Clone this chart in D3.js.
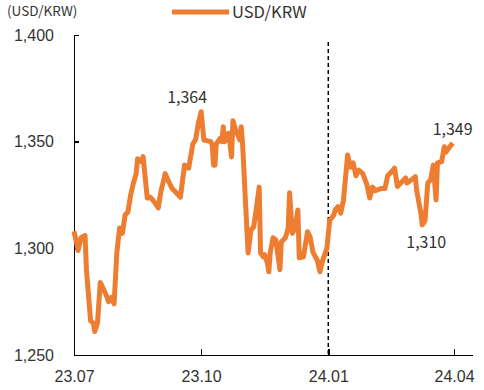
<!DOCTYPE html>
<html>
<meta charset="utf-8">
<style>
body {
  margin: 0;
  font-family: 'Noto Sans CJK KR', 'Noto Sans', sans-serif;
  color: #333;
}
.axis path,
.axis line {
  fill: none;
  stroke: #000;
  stroke-width: 1.5;
  shape-rendering: crispEdges;
}
.axis text {
  font-size: 16px;
  fill: #333;
}
</style>
<body>
<script src="https://cdn.jsdelivr.net/npm/d3@7"></script>
<script>
var w = 484;
var h = 390;

// daily USD/KRW close
var dates = [
  "2023-07-01","2023-07-04","2023-07-06","2023-07-09","2023-07-10","2023-07-13","2023-07-15","2023-07-16",
  "2023-07-18","2023-07-20","2023-07-23","2023-07-25","2023-07-26","2023-07-28","2023-07-30","2023-08-01",
  "2023-08-03","2023-08-05","2023-08-07","2023-08-09","2023-08-11","2023-08-13","2023-08-15","2023-08-16",
  "2023-08-19","2023-08-20","2023-08-23","2023-08-25","2023-08-27","2023-08-29","2023-08-31","2023-09-02",
  "2023-09-05","2023-09-07","2023-09-10","2023-09-13","2023-09-16","2023-09-19","2023-09-22","2023-09-25",
  "2023-09-27","2023-09-29","2023-10-01","2023-10-03","2023-10-05","2023-10-08","2023-10-09","2023-10-10",
  "2023-10-11","2023-10-12","2023-10-15","2023-10-16","2023-10-17","2023-10-18","2023-10-21","2023-10-23",
  "2023-10-24","2023-10-26","2023-10-27","2023-10-29","2023-10-30","2023-10-31","2023-11-02","2023-11-04",
  "2023-11-06","2023-11-08","2023-11-10","2023-11-12","2023-11-13","2023-11-15","2023-11-16","2023-11-18",
  "2023-11-19","2023-11-20","2023-11-22","2023-11-24","2023-11-27","2023-11-28","2023-12-01","2023-12-03",
  "2023-12-04","2023-12-06","2023-12-08","2023-12-10","2023-12-11","2023-12-14","2023-12-17","2023-12-19",
  "2023-12-21","2023-12-24","2023-12-26","2023-12-28","2023-12-31","2024-01-02","2024-01-05","2024-01-06",
  "2024-01-08","2024-01-10","2024-01-12","2024-01-15","2024-01-17","2024-01-19","2024-01-21","2024-01-23",
  "2024-01-26","2024-01-29","2024-01-31","2024-02-02","2024-02-04","2024-02-08","2024-02-11","2024-02-13",
  "2024-02-16","2024-02-18","2024-02-20","2024-02-23","2024-02-26","2024-02-27","2024-03-01","2024-03-04",
  "2024-03-05","2024-03-08","2024-03-09","2024-03-11","2024-03-13","2024-03-15","2024-03-17","2024-03-19",
  "2024-03-20","2024-03-23","2024-03-25","2024-03-26","2024-03-31"
];
var usdkrw = [
  1308,1299,1305,1306,1290,1266,1265,1261,
  1265,1284,1280,1277,1275,1277,1274,1298,
  1309.5,1307,1315.6,1317,1325,1330.6,1335,1342,
  1340.6,1343,1323.6,1324,1322.7,1321,1319,1327,
  1335,1332,1328,1326,1324,1339,1337.6,1349,
  1351,1358.7,1364,1350.8,1350.5,1350,1348.4,1339,
  1339,1349,1351.7,1350,1357,1350,1354,1342.8,
  1359.8,1355.5,1354,1350.8,1357,1349,1323,1297.8,
  1308.6,1310,1319,1328.7,1297.8,1296,1297,1293,
  1289,1298,1305,1304,1290,1303,1305,1309.5,
  1326,1307,1309.5,1318,1295.5,1296,1307.8,1305,
  1298,1294.5,1289,1294.5,1300,1313,1315.6,1318,
  1319.5,1316.5,1322.7,1343.8,1338,1340,1334,1336.7,
  1335,1329.7,1323.6,1328.7,1327,1328,1328,1334,
  1336,1337.6,1329,1331,1333,1330.6,1332,1333.6,
  1327,1316.5,1311,1313,1330.6,1332,1339,1322.7,
  1340,1340.6,1347.6,1345,1349.4
];

var yTicks = [1250, 1300, 1350, 1400];
var xTicks = ["2023-07-01", "2023-10-01", "2024-01-01", "2024-04-01"];
var xTickLabels = ["23.07", "23.10", "24.01", "24.04"];
var yearLine = "2024-01-01";

// labelled points: max, latest, recent low
var notes = [
  { date: "2023-10-01", text: "1,364" },
  { date: "2024-03-31", text: "1,349" },
  { date: "2024-03-09", text: "1,310" }
];

var parse = d3.timeParse("%Y-%m-%d");
var data = dates.map(function(d, i) {
  return { date: parse(d), value: usdkrw[i] };
});

var xScale = d3.scaleTime()
    .domain([parse("2023-07-01"), parse("2024-04-14")])
    .range([74, 472]);

var yScale = d3.scaleLinear()
    .domain([1250, 1400])
    .range([355, 35]);

var svg = d3.select("body")
    .append("svg")
    .attr("width", w)
    .attr("height", h);

// unit label
svg.append("text")
    .attr("x", 7)
    .attr("y", 16)
    .style("font-size", "13.5px")
    .style("fill", "#333")
    .text("(USD/KRW)");

// legend
svg.append("line")
    .attr("x1", 172).attr("x2", 229)
    .attr("y1", 12).attr("y2", 12)
    .style("stroke", "#ED7D31")
    .style("stroke-width", 5);
svg.append("text")
    .attr("x", 232)
    .attr("y", 18)
    .style("font-size", "16.5px")
    .style("fill", "#333")
    .text("USD/KRW");

// y axis, ticks pointing in
var yAxis = d3.axisRight(yScale)
    .tickValues(yTicks)
    .tickFormat(d3.format(","))
    .tickSize(5)
    .tickSizeOuter(0);
var gy = svg.append("g")
    .attr("class", "axis")
    .attr("transform", "translate(74,0)")
    .call(yAxis);
gy.selectAll("text")
    .attr("x", -20)
    .style("text-anchor", "end");

// x axis, ticks pointing up
var xAxis = d3.axisBottom(xScale)
    .tickValues(xTicks.map(parse))
    .tickFormat(function(d, i) { return xTickLabels[i]; })
    .tickSize(-6)
    .tickSizeOuter(0);
var gx = svg.append("g")
    .attr("class", "axis")
    .attr("transform", "translate(0,355)")
    .call(xAxis);
gx.selectAll("text")
    .attr("y", 16)
    .attr("dy", "0.71em");
gx.select(".tick line").remove();

// start-of-year divider
svg.append("line")
    .attr("x1", xScale(parse(yearLine)))
    .attr("x2", xScale(parse(yearLine)))
    .attr("y1", 42)
    .attr("y2", 355)
    .style("stroke", "#000")
    .style("stroke-width", 1.5)
    .style("stroke-dasharray", "4,3");

// the rate line
var line = d3.line()
    .x(function(d) { return xScale(d.date); })
    .y(function(d) { return yScale(d.value); });

svg.append("path")
    .datum(data)
    .attr("d", line)
    .style("fill", "none")
    .style("stroke", "#ED7D31")
    .style("stroke-width", 5)
    .style("stroke-linejoin", "round");

// value notes
var offsets = [[-14, -9], [0, -8], [4, 23]];
svg.selectAll(".note")
    .data(notes)
    .enter()
    .append("text")
    .attr("class", "note")
    .attr("x", function(d, i) { return xScale(parse(d.date)) + offsets[i][0]; })
    .attr("y", function(d, i) {
      var p = data.find(function(e) { return +e.date === +parse(d.date); });
      return yScale(p.value) + offsets[i][1];
    })
    .style("text-anchor", "middle")
    .style("font-size", "16px")
    .style("fill", "#333")
    .text(function(d) { return d.text; });
</script>
</body>
</html>
